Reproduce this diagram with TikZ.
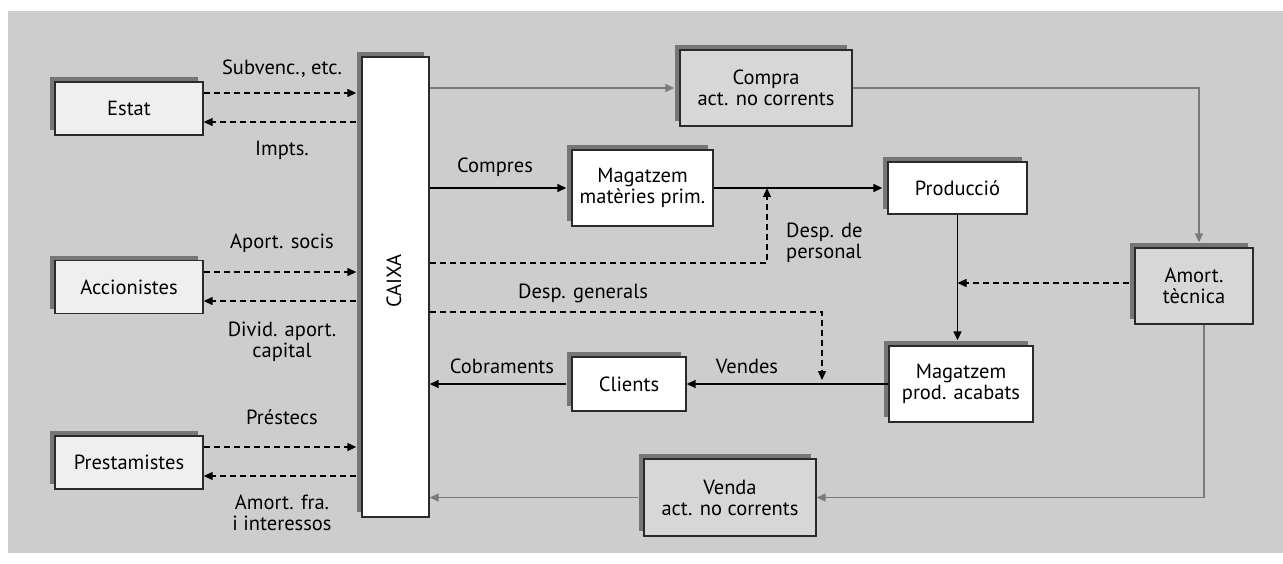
\documentclass[tikz,border=0pt]{standalone}
\usepackage{fontspec}
\setmainfont{PT Sans}
\usetikzlibrary{arrows.meta,shadows}
\definecolor{panel}{HTML}{CDCDCD}
\definecolor{lightbox}{HTML}{EFEFEF}
\definecolor{midbox}{HTML}{D7D7D7}
\definecolor{shadowc}{HTML}{767676}
\definecolor{greyline}{HTML}{7A7A7A}
\definecolor{boxline}{HTML}{2A2A2A}
\begin{document}
\begin{tikzpicture}[x=1pt,y=-1pt,
  txt/.style={font=\fontsize{20.5}{21}\selectfont, inner sep=0pt, align=center},
  box/.style={txt, draw=boxline, line width=1.4pt,
    general shadow={fill=shadowc, shadow xshift=-5pt, shadow yshift=5pt}},
  lbox/.style={box, fill=lightbox, minimum width=148pt, minimum height=53pt},
  mbox/.style={box, fill=midbox},
  wbox/.style={box, fill=white},
  tip/.style={-{Triangle[length=9pt,width=8pt]}},
  blk/.style={tip, line width=1.5pt, black},
  gry/.style={tip, line width=1.5pt, greyline},
  dsh/.style={tip, line width=1.3pt, black, dash pattern=on 6pt off 4pt}]
\useasboundingbox (0,0) rectangle (1283,563);
\fill[white] (0,0) rectangle (1283,563);
\fill[panel] (8,11) rectangle (1283,553);

% nodes
\node[lbox] (estat) at (129,108.5) {Estat};
\node[lbox] (acc) at (129,287) {Accionistes};
\node[lbox] (prest) at (129,462.5) {Prestamistes};
\node[wbox, minimum width=67pt, minimum height=460pt] (caixa) at (395.5,287) {};
\node[txt, rotate=90] (caixat) at (394,281) {CAIXA};
\node[mbox, minimum width=172pt, minimum height=76pt] (compra) at (766,88) {Compra\\act. no corrents};
\node[wbox, minimum width=141pt, minimum height=76pt] (mmp) at (642.5,188) {Magatzem\\matèries prim.};
\node[wbox, minimum width=139pt, minimum height=52pt] (prod) at (957.5,188) {Producció};
\node[wbox, minimum width=114pt, minimum height=54pt] (clients) at (629,384) {Clients};
\node[wbox, minimum width=144pt, minimum height=76pt] (mpa) at (961,384) {Magatzem\\prod. acabats};
\node[mbox, minimum width=118pt, minimum height=76pt] (amort) at (1194,286) {Amort.\\tècnica};
\node[mbox, minimum width=172pt, minimum height=77pt] (venda) at (730,497.5) {Venda\\act. no corrents};

% helper coordinates
\coordinate (y93) at (0,93);
\coordinate (y122) at (0,122);
\coordinate (y272) at (0,272);
\coordinate (y301) at (0,301);
\coordinate (y447) at (0,447);
\coordinate (y476) at (0,476);
\coordinate (dpers) at (767,263);
\coordinate (dgen) at (822,312);
\coordinate (dgenend) at (822,380);
\coordinate (y283) at (0,283);
\coordinate (xc) at (1199,0);
\coordinate (xv) at (1204,0);

% left side flows
\draw[dsh, shorten >=5pt] (estat.east |- y93) -- (caixa.west |- y93);
\draw[dsh, shorten <=5pt] (caixa.west |- y122) -- (estat.east |- y122);
\draw[dsh, shorten >=5pt] (acc.east |- y272) -- (caixa.west |- y272);
\draw[dsh, shorten <=5pt] (caixa.west |- y301) -- (acc.east |- y301);
\draw[dsh, shorten >=5pt] (prest.east |- y447) -- (caixa.west |- y447);
\draw[dsh, shorten <=5pt] (caixa.west |- y476) -- (prest.east |- y476);

% grey flows
\draw[gry, shorten >=5pt] (caixa.east |- compra.west) -- (compra.west);
\draw[gry, shorten >=5pt] (compra.east) -| (xc |- amort.north);
\draw[gry] (xv |- amort.south) |- (venda.east);
\draw[gry, shorten <=5pt] (venda.west) -- (caixa.east |- venda.west);

% black flows
\draw[blk, shorten >=5pt] (caixa.east |- mmp.west) -- (mmp.west);
\draw[blk, shorten >=5pt] (mmp.east) -- (prod.west);
\draw[blk, shorten >=5pt] (prod.south) -- (prod.south |- mpa.north);
\draw[blk] (mpa.west) -- (clients.east);
\draw[blk, shorten <=5pt] (clients.west) -- (caixa.east |- clients.west);

% dashed internal flows
\draw[dsh] (caixa.east |- dpers) -| (dpers |- mmp.east);
\draw[dsh] (caixa.east |- dgen) -| (dgenend);
\draw[dsh, shorten <=5pt] (amort.west |- y283) -- (prod.south |- y283);

% labels
\node[txt] (l1) at (282,69) {Subvenc., etc.};
\node[txt] (l2) at (282,150) {Impts.};
\node[txt] (l3) at (282,243) {Aport. socis};
\node[txt] (l4) at (282,342) {Divid. aport.\\capital};
\node[txt] (l5) at (282,417) {Préstecs};
\node[txt] (l6) at (282,513) {Amort. fra.\\i interessos};
\node[txt] (l7) at (495,167) {Compres};
\node[txt, anchor=west, align=left] (l8) at (786,243) {Desp. de\\personal};
\node[txt] (l9) at (583,293) {Desp. generals};
\node[txt] (l10) at (502,366) {Cobraments};
\node[txt] (l11) at (747,366) {Vendes};
\end{tikzpicture}
\end{document}
